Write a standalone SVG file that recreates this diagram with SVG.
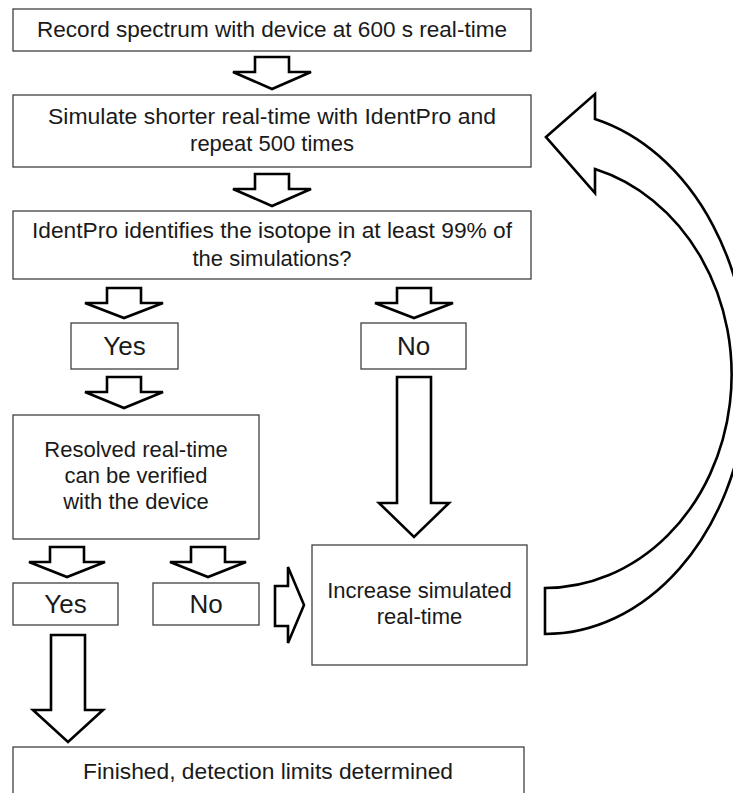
<svg xmlns="http://www.w3.org/2000/svg" width="733" height="793" viewBox="0 0 733 793">
  <style>
    .box { fill: #ffffff; stroke: #404040; stroke-width: 1.3; }
    .t { font-family: "Liberation Sans", Arial, sans-serif; font-size: 22px; fill: #1a1a1a; text-anchor: middle; }
    .big { font-size: 26px; }
    .arr { fill: #ffffff; stroke: #000000; stroke-width: 2.6; stroke-linejoin: miter; }
  </style>
  <rect width="733" height="793" fill="#ffffff"/>

  <g id="connectors">
    <!-- small down arrows -->
    <polygon class="arr" points="255,57 289,57 289,72 311,72 272,89 233,72 255,72"/>
    <polygon class="arr" points="255,174 289,174 289,189 311,189 272,206 233,189 255,189"/>
    <polygon class="arr" points="107,288 141,288 141,303 163,303 124,318 85,303 107,303"/>
    <polygon class="arr" points="397,288 431,288 431,303 453,303 414,318 375,303 397,303"/>
    <polygon class="arr" points="107,377 141,377 141,392 163,392 124,408 85,392 107,392"/>
    <polygon class="arr" points="50,547 84,547 84,562 105,562 67,577 29,562 50,562"/>
    <polygon class="arr" points="191,547 225,547 225,562 246,562 208,577 170,562 191,562"/>
    <!-- long down arrows -->
    <polygon class="arr" points="397,377 431,377 431,503 449,503 414,537 379,503 397,503"/>
    <polygon class="arr" points="51,635 85,635 85,710 103,710 68,742 33,710 51,710"/>
    <!-- right arrow -->
    <polygon class="arr" points="275,586 288,586 288,567 304,605 288,643 288,626 275,626"/>
    <!-- curved loop-back arrow -->
    <path class="arr" d="M 546,137 L 595,94 L 595,119 A 203,261.5 0 0 1 545,634 L 545,588 A 186.6,213.4 0 0 0 595,169 L 595,193 Z"/>
  </g>

  <g id="record">
    <rect class="box" x="13" y="9" width="518" height="42"/>
    <text class="t" x="272" y="37" textLength="470" lengthAdjust="spacingAndGlyphs">Record spectrum with device at 600 s real-time</text>
  </g>
  <g id="simulate">
    <rect class="box" x="13" y="95" width="518" height="72"/>
    <text class="t" x="272" y="124" textLength="448" lengthAdjust="spacingAndGlyphs">Simulate shorter real-time with IdentPro and</text>
    <text class="t" x="272" y="151">repeat 500 times</text>
  </g>
  <g id="identifies">
    <rect class="box" x="13" y="211" width="518" height="68"/>
    <text class="t" x="272" y="238" textLength="480" lengthAdjust="spacingAndGlyphs">IdentPro identifies the isotope in at least 99% of</text>
    <text class="t" x="272" y="266">the simulations?</text>
  </g>
  <g id="yes1">
    <rect class="box" x="71" y="323" width="107" height="46"/>
    <text class="t big" x="124.5" y="355">Yes</text>
  </g>
  <g id="no1">
    <rect class="box" x="361" y="323" width="105" height="46"/>
    <text class="t big" x="413.5" y="355">No</text>
  </g>
  <g id="resolved">
    <rect class="box" x="13" y="415" width="246" height="124"/>
    <text class="t" x="136" y="457">Resolved real-time</text>
    <text class="t" x="136" y="483">can be verified</text>
    <text class="t" x="136" y="509">with the device</text>
  </g>
  <g id="yes2">
    <rect class="box" x="13" y="583" width="105" height="42"/>
    <text class="t big" x="65.5" y="613">Yes</text>
  </g>
  <g id="no2">
    <rect class="box" x="153" y="583" width="106" height="42"/>
    <text class="t big" x="206" y="613">No</text>
  </g>
  <g id="increase">
    <rect class="box" x="312" y="545" width="215" height="120"/>
    <text class="t" x="419.5" y="598">Increase simulated</text>
    <text class="t" x="419.5" y="624">real-time</text>
  </g>
  <g id="finished">
    <rect class="box" x="13" y="747" width="511" height="60"/>
    <text class="t" x="268" y="779" textLength="370" lengthAdjust="spacingAndGlyphs">Finished, detection limits determined</text>
  </g>
</svg>
